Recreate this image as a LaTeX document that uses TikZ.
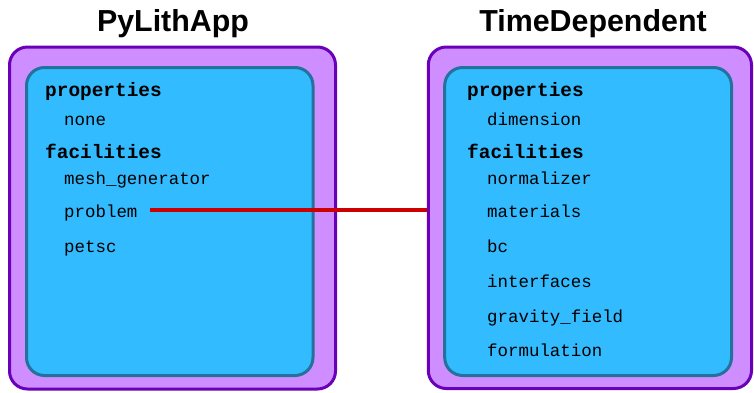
\documentclass[tikz,border=0pt]{standalone}
\usepackage{fontspec}
\setmainfont{Liberation Sans}
\setmonofont{Liberation Mono}
\definecolor{outerfill}{HTML}{CE8EFF}
\definecolor{outerdraw}{HTML}{6A00B8}
\definecolor{innerfill}{HTML}{33BBFF}
\definecolor{innerdraw}{HTML}{22729C}
\definecolor{linkred}{HTML}{CC0000}
\tikzset{
  outerbox/.style={draw=outerdraw, fill=outerfill, line width=3bp, rounded corners=18bp},
  innerbox/.style={draw=innerdraw, fill=innerfill, line width=3bp, rounded corners=18bp},
  title/.style={anchor=base, font=\fontsize{30.5}{33}\selectfont\bfseries, inner sep=0pt},
  head/.style={anchor=base west, font=\fontsize{19.5}{22}\selectfont\ttfamily\bfseries, inner sep=0pt},
  item/.style={anchor=base west, font=\fontsize{17.5}{20}\selectfont\ttfamily, inner sep=0pt},
  link/.style={draw=linkred, line width=4bp}
}
\begin{document}
\begin{tikzpicture}[x=1bp, y=-1bp]
\useasboundingbox (0,0) rectangle (754,392);
% left component
\draw[outerbox] (9.5,47) rectangle (335.5,389);
\draw[innerbox] (26.5,67.5) rectangle (313,375.5);
\node[title] (ltitle) at (173,31.5) {PyLithApp};
\node[head] (lprops) at (45,96) {properties};
\node[item] (lnone) at (64,125) {none};
\node[head] (lfac) at (45,158.5) {facilities};
\node[item] (lmesh) at (64,184) {mesh\_generator};
\node[item] (lprob) at (64,217) {problem};
\node[item] (lpetsc) at (64,252) {petsc};
% right component
\draw[outerbox] (428.3,47) rectangle (751.5,388.5);
\draw[innerbox] (444.7,67.5) rectangle (731.5,375.5);
\coordinate (rin) at (427,210.3);
\node[title] (rtitle) at (593,31.5) {TimeDependent};
\node[head] (rprops) at (467,96) {properties};
\node[item] (rdim) at (487,125) {dimension};
\node[head] (rfac) at (467,158.5) {facilities};
\node[item] (rnorm) at (487,184) {normalizer};
\node[item] (rmat) at (487,217) {materials};
\node[item] (rbc) at (487,252) {bc};
\node[item] (rint) at (487,287) {interfaces};
\node[item] (rgrav) at (487,322) {gravity\_field};
\node[item] (rform) at (487,356) {formulation};
% connector
\coordinate (lstart) at (lprob.east |- rin);
\draw[link] ([xshift=12.5bp]lstart) -- (rin);
\end{tikzpicture}
\end{document}
